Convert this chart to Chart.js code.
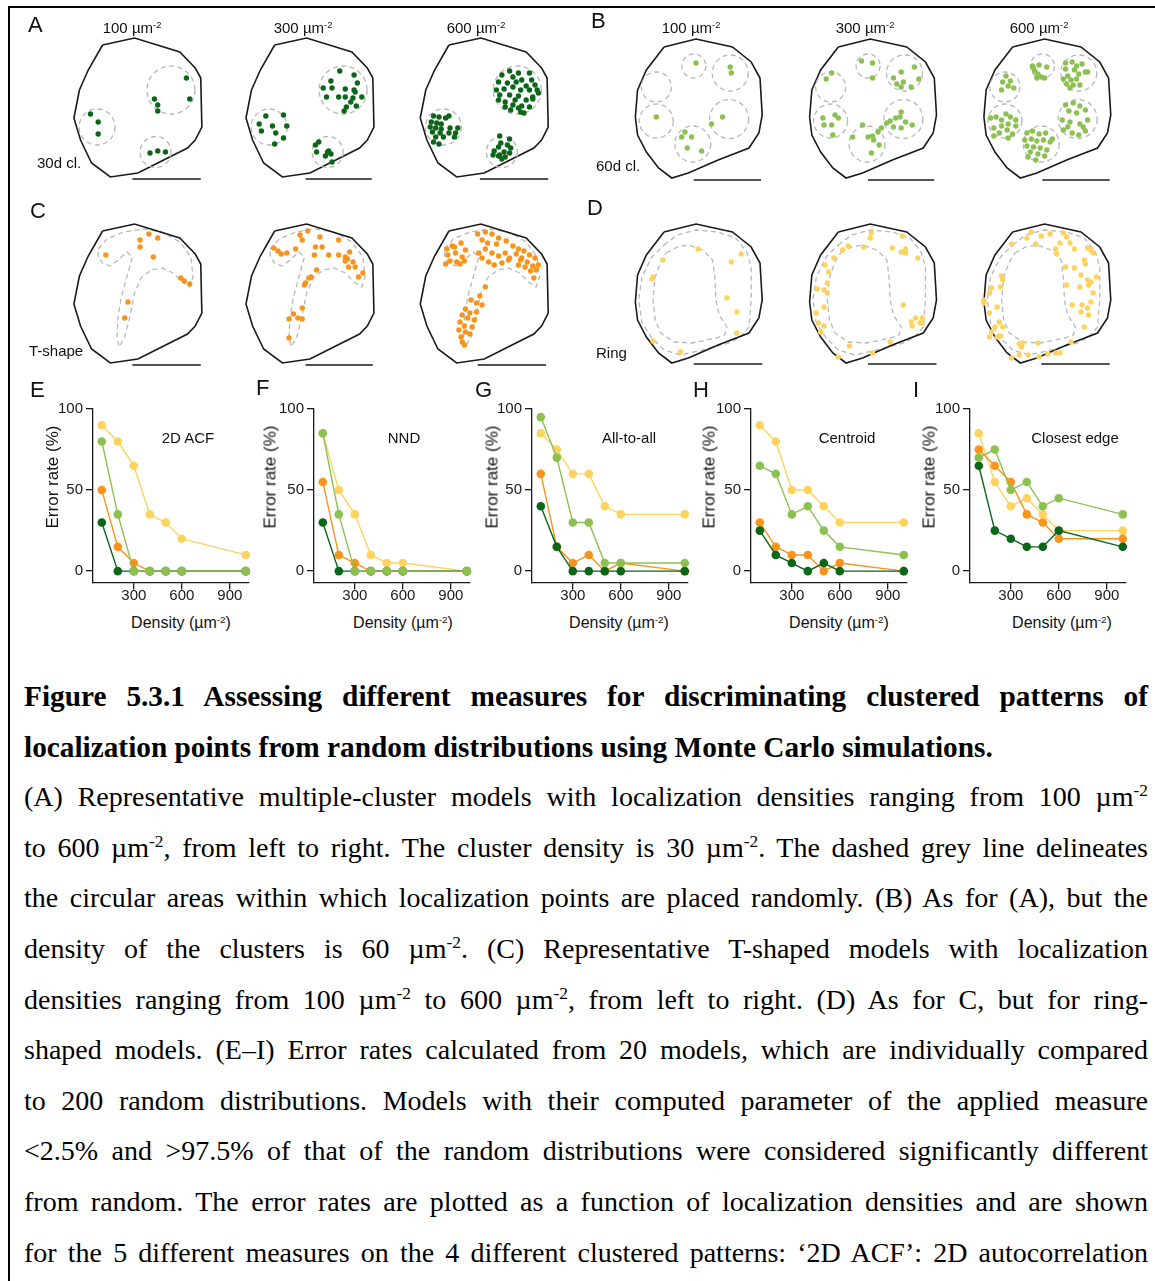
<!DOCTYPE html>
<html>
<head>
<meta charset="utf-8">
<title>Figure 5.3.1</title>
<script src="https://cdn.jsdelivr.net/npm/chart.js@4.4.1/dist/chart.umd.min.js"></script>
<style>
  html, body { margin: 0; padding: 0; background: #fff; }
  #page { position: relative; width: 1155px; height: 1281px; overflow: hidden; background: #fff;
          font-family: 'Liberation Sans', Arial, Helvetica, sans-serif; color: #111; }
  #frame { position: absolute; left: 8px; top: 6px; width: 1200px; height: 1400px;
           border-top: 2px solid #000; border-left: 2px solid #000; }
  canvas { position: absolute; }
  .lbl { position: absolute; line-height: 1; white-space: nowrap; }
  .letter { font-size: 22px; }
  .dens { font-size: 15px; transform: translateX(-50%); }
  .pat { font-size: 15px; }
  .ptitle { font-size: 15px; transform: translateX(-50%); }
  .xt { font-size: 16px; transform: translateX(-50%); }
  .yt { font-size: 17px; transform: translate(-50%, -50%) rotate(-90deg); }
  sup { font-size: 62%; line-height: 0; vertical-align: 0.55em; }
  #caption { position: absolute; left: 24px; top: 671px; width: 1124px;
             font-family: 'Liberation Serif', 'Times New Roman', serif; font-size: 28px;
             line-height: 50.6px; color: #000; }
  #caption .j { text-align: justify; text-align-last: justify; }
  #caption .b { font-weight: bold; font-size: 29.3px; }
</style>
</head>
<body>
<div id="page">
  <div id="frame"></div>

  <canvas id="modelsLeft" width="578" height="375" style="left:0;top:0"></canvas>
  <canvas id="modelsRight" width="577" height="375" style="left:578px;top:0"></canvas>

  <canvas id="chartE" width="217" height="216" style="left:40px;top:397px"></canvas>
  <canvas id="chartF" width="217" height="216" style="left:261px;top:397px"></canvas>
  <canvas id="chartG" width="217" height="216" style="left:479px;top:397px"></canvas>
  <canvas id="chartH" width="217" height="216" style="left:698px;top:397px"></canvas>
  <canvas id="chartI" width="217" height="216" style="left:917px;top:397px"></canvas>

  <!-- panel letters -->
  <div class="lbl letter" style="left:28px;top:14px">A</div>
  <div class="lbl letter" style="left:591px;top:10px">B</div>
  <div class="lbl letter" style="left:30px;top:200px">C</div>
  <div class="lbl letter" style="left:587px;top:197px">D</div>
  <div class="lbl letter" style="left:30px;top:379px">E</div>
  <div class="lbl letter" style="left:256px;top:377px">F</div>
  <div class="lbl letter" style="left:475px;top:379px">G</div>
  <div class="lbl letter" style="left:693px;top:379px">H</div>
  <div class="lbl letter" style="left:913px;top:379px">I</div>

  <!-- density headers -->
  <div class="lbl dens" style="left:132px;top:20px">100 µm<sup>-2</sup></div>
  <div class="lbl dens" style="left:303px;top:20px">300 µm<sup>-2</sup></div>
  <div class="lbl dens" style="left:476px;top:20px">600 µm<sup>-2</sup></div>
  <div class="lbl dens" style="left:691px;top:20px">100 µm<sup>-2</sup></div>
  <div class="lbl dens" style="left:865px;top:20px">300 µm<sup>-2</sup></div>
  <div class="lbl dens" style="left:1039px;top:20px">600 µm<sup>-2</sup></div>

  <!-- pattern names -->
  <div class="lbl pat" style="left:37px;top:155px">30d cl.</div>
  <div class="lbl pat" style="left:596px;top:158px">60d cl.</div>
  <div class="lbl pat" style="left:29px;top:343px">T-shape</div>
  <div class="lbl pat" style="left:596px;top:345px">Ring</div>

  <!-- measure names -->
  <div class="lbl ptitle" style="left:188px;top:430px">2D ACF</div>
  <div class="lbl ptitle" style="left:404px;top:430px">NND</div>
  <div class="lbl ptitle" style="left:629px;top:430px">All-to-all</div>
  <div class="lbl ptitle" style="left:847px;top:430px">Centroid</div>
  <div class="lbl ptitle" style="left:1075px;top:430px">Closest edge</div>

  <!-- axis titles -->
  <div class="lbl yt" style="left:52px;top:477px">Error rate (%)</div>
  <div class="lbl yt" style="left:270px;top:477px">Error rate (%)</div>
  <div class="lbl yt" style="left:492px;top:477px">Error rate (%)</div>
  <div class="lbl yt" style="left:709px;top:477px">Error rate (%)</div>
  <div class="lbl yt" style="left:929px;top:477px">Error rate (%)</div>
  <div class="lbl xt" style="left:181px;top:615px">Density (µm<sup>-2</sup>)</div>
  <div class="lbl xt" style="left:403px;top:615px">Density (µm<sup>-2</sup>)</div>
  <div class="lbl xt" style="left:619px;top:615px">Density (µm<sup>-2</sup>)</div>
  <div class="lbl xt" style="left:839px;top:615px">Density (µm<sup>-2</sup>)</div>
  <div class="lbl xt" style="left:1062px;top:615px">Density (µm<sup>-2</sup>)</div>

  <div id="caption">
    <div class="j b">Figure 5.3.1 Assessing different measures for discriminating clustered patterns of</div>
    <div class="b">localization points from random distributions using Monte Carlo simulations.</div>
    <div class="j">(A) Representative multiple-cluster models with localization densities ranging from 100 µm<sup>-2</sup></div>
    <div class="j">to 600 µm<sup>-2</sup>, from left to right. The cluster density is 30 µm<sup>-2</sup>. The dashed grey line delineates</div>
    <div class="j">the circular areas within which localization points are placed randomly. (B) As for (A), but the</div>
    <div class="j">density of the clusters is 60 µm<sup>-2</sup>. (C) Representative T-shaped models with localization</div>
    <div class="j">densities ranging from 100 µm<sup>-2</sup> to 600 µm<sup>-2</sup>, from left to right. (D) As for C, but for ring-</div>
    <div class="j">shaped models. (E–I) Error rates calculated from 20 models, which are individually compared</div>
    <div class="j">to 200 random distributions. Models with their computed parameter of the applied measure</div>
    <div class="j">&lt;2.5% and &gt;97.5% of that of the random distributions were considered significantly different</div>
    <div class="j">from random. The error rates are plotted as a function of localization densities and are shown</div>
    <div class="j">for the 5 different measures on the 4 different clustered patterns: ‘2D ACF’: 2D autocorrelation</div>
  </div>
</div>

<script>
// ---- E–I: error rate (%) vs localization density ----
const densities = [100, 200, 300, 400, 500, 600, 1000];
const densityTicks = [300, 600, 900];
const errorTicks = [0, 50, 100];

const acfCl30 = [30, 0, 0, 0, 0, 0, 0];
const acfCl60 = [80, 35, 0, 0, 0, 0, 0];
const acfTshape = [50, 15, 5, 0, 0, 0, 0];
const acfRing = [90, 80, 65, 35, 30, 20, 10];

const nndCl30 = [30, 0, 0, 0, 0, 0, 0];
const nndCl60 = [85, 35, 0, 0, 0, 0, 0];
const nndTshape = [55, 10, 5, 0, 0, 0, 0];
const nndRing = [85, 50, 35, 10, 5, 5, 0];

const allCl30 = [40, 15, 0, 0, 0, 0, 0];
const allCl60 = [95, 70, 30, 30, 5, 5, 5];
const allTshape = [60, 15, 5, 10, 0, 5, 0];
const allRing = [85, 75, 60, 60, 40, 35, 35];

const cenCl30 = [25, 10, 5, 0, 5, 0, 0];
const cenCl60 = [65, 60, 35, 40, 25, 15, 10];
const cenTshape = [30, 15, 10, 10, 0, 5, 0];
const cenRing = [90, 80, 50, 50, 40, 30, 30];

const edgeCl30 = [65, 25, 20, 15, 15, 25, 15];
const edgeCl60 = [70, 75, 50, 55, 40, 45, 35];
const edgeTshape = [75, 65, 55, 35, 30, 20, 20];
const edgeRing = [85, 55, 40, 45, 35, 25, 25];

// ---- A–D: model sketches (sketch units, first cell of each row) ----
const outlineRound = [[93,45],[122,38],[163,52],[177,68],[182,78],[183,127],[177,140],[170,148],[125,173],[100,177],[83,163],[73,140],[67,118],[72,90],[80,70]];
const outlineOval = [[656,47],[685,39],[718,47],[735,62],[743,78],[745,115],[742,133],[733,148],[705,160],[678,173],[663,178],[651,168],[640,152],[632,135],[630,117],[632,90],[640,70]];
const cellShiftLeft = [0, 156, 314];
const cellShiftRight = [0, 158, 316];
const dropC = 186;
const dropD = 185;

// dashed cluster circles: x, y, radius
const circlesA = [[155,90,24],[88,127,18],[141,152,15.5]];
const circlesB = [[683,66,12],[716,73,18],[649,87,15],[649,121,17],[682,144,18],[715,119,19.5]];
const tShape = [[89,249],[97,239],[112,232],[130,229],[147,232],[163,242],[173,257],[175,277],[172,287],[165,282],[157,273],[147,268],[137,270],[128,278],[122,293],[117,320],[113,337],[108,347],[106,337],[107,317],[110,297],[115,277],[120,257],[115,252],[107,260],[100,266],[93,263],[89,257]];
const ringOuter = [[656,245],[668,235],[685,230],[705,232],[721,238],[731,252],[735,267],[735,300],[733,327],[725,337],[715,343],[691,350],[671,355],[656,350],[645,338],[636,323],[633,300],[636,277],[645,257]];
const ringInner = [[658,253],[668,247],[678,245],[691,250],[700,260],[702,277],[703,300],[706,315],[713,327],[711,335],[703,338],[681,343],[665,342],[653,333],[648,320],[646,300],[648,277],[653,262]];
// scale bars: x0, x1, y
const scaleBars = [[120,182,179],[277,337,179],[435,497,179],[683,744,180],[841,901,180],[999,1060,180],
                   [120,182,365],[277,338,365],[433,495,365],[683,745,364],[841,903,364],[998,1060,364]];

const dotsA100 = [[169,78],[172,99],[140,99],[143,105],[143,111],[82,114],[89,122],[89,134],[136,153],[143,151],[150,152]];
const dotsA300 = [[308,71],[321,75],[300,81],[324,83],[293,88],[301,88],[313,89],[321,90],[296,97],[307,97],[313,97],[320,98],[328,97],[322,92],[318,102],[323,106],[314,107],[312,111],[241,116],[257,115],[235,124],[247,126],[260,126],[237,131],[250,133],[257,138],[249,144],[289,142],[286,145],[287,152],[297,152],[300,154],[295,156],[301,162],[298,151]];
const dotsA600 = [[462,71],[470,73],[480,73],[455,75],[465,77],[473,80],[482,80],[452,82],[460,83],[468,82],[477,86],[485,85],[487,90],[450,90],[457,89],[465,87],[472,90],[480,90],[453,95],[462,95],[470,96],[483,97],[488,93],[452,100],[458,102],[467,100],[477,100],[483,99],[458,107],[465,105],[473,106],[480,107],[463,110],[472,112],[475,113],[470,108],
  [393,116],[398,117],[404,118],[391,122],[396,123],[400,124],[390,127],[395,128],[400,129],[408,128],[415,128],[392,132],[399,133],[407,133],[413,133],[395,137],[402,137],[412,137],[393,142],[398,144],[407,116],
  [453,136],[454,143],[462,139],[460,145],[452,147],[463,148],[448,151],[457,152],[447,155],[452,156],[458,157],[462,153],[455,159],[453,155]];

const dotsB100 = [[685,63],[716,67],[717,73],[649,117],[709,117],[699,124],[675,132],[672,137],[681,137],[677,148],[690,151]];
const dotsB300 = [[835,61],[845,63],[845,78],[808,73],[803,79],[883,67],[871,72],[864,78],[873,82],[887,79],[867,84],[880,87],[871,87],[800,118],[811,115],[814,118],[808,125],[801,125],[809,135],[827,137],[836,125],[841,137],[846,140],[845,136],[850,132],[853,128],[851,145],[844,153],[858,123],[861,121],[866,118],[871,112],[870,117],[875,122],[864,127],[871,128],[881,125]];
const dotsB600 = [[990,66],[996,65],[1003,67],[992,71],[995,74],[998,77],[1001,78],[994,78],[991,68],
  [1020,63],[1026,62],[1030,66],[1035,64],[1038,72],[1020,69],[1028,70],[1032,74],[1022,76],[1025,80],[1030,79],[1021,84],[1027,85],[1033,85],[1024,88],[1040,72],[1018,79],
  [966,76],[963,82],[968,86],[973,88],[962,90],[970,81],
  [952,118],[957,117],[966,114],[970,117],[962,120],[975,120],[955,128],[962,126],[968,124],[975,126],[960,133],[967,130],[972,134],[955,136],[968,138],
  [985,133],[990,131],[996,134],[1002,133],[983,140],[989,139],[994,141],[1000,140],[1006,142],[985,146],[991,147],[997,148],[1003,150],[988,152],[995,154],[1001,156],[993,160],[986,157],[1008,139],
  [1020,105],[1027,103],[1033,106],[1038,110],[1023,111],[1030,113],[1017,120],[1024,122],[1033,124],[1040,120],[1018,130],[1026,133],[1032,135],[1038,131],[1022,127],[1036,127]];

const dotsC100 = [[135,234],[127,240],[143,238],[127,247],[96,255],[139,257],[164,278],[167,281],[172,284],[116,302],[113,318]];
const dotsC300 = [[279,231],[272,235],[274,240],[290,237],[307,240],[248,248],[252,251],[260,253],[255,254],[268,249],[286,247],[292,247],[285,255],[298,255],[307,255],[317,252],[313,257],[313,261],[315,259],[320,262],[316,267],[322,267],[329,273],[325,277],[287,270],[280,278],[277,283],[282,277],[276,285],[274,308],[266,314],[262,319],[270,318],[274,319],[262,338]];
const dotsC600 = [[405,249],[410,246],[418,243],[422,250],[406,255],[413,253],[419,257],[408,261],[414,262],[421,261],[404,264],[412,247],[417,264],
  [433,234],[440,232],[446,234],[452,238],[459,241],[437,240],[442,243],[450,244],[434,253],[440,249],[446,253],[452,256],[458,253],[437,258],[443,262],[448,265],[455,263],[461,260],
  [465,246],[470,249],[475,251],[480,255],[485,258],[468,254],[473,258],[478,262],[483,266],[488,265],[470,265],[476,267],[481,271],[486,270],[484,278],[472,260],[462,258],
  [440,287],[435,296],[432,303],[427,300],[422,309],[426,313],[419,315],[424,318],[430,320],[417,322],[421,326],[428,327],[416,330],[422,332],[418,337],[426,334],[419,342],[421,345],[432,312],[437,305]];

const dotsD100 = [[687,249],[726,254],[655,260],[717,262],[646,277],[645,279],[713,298],[722,312],[722,333],[646,341],[671,352]];
const dotsD300 = [[844,233],[843,238],[872,236],[818,250],[823,246],[837,247],[863,248],[871,252],[875,249],[875,253],[886,258],[810,258],[802,265],[805,272],[804,283],[795,289],[801,290],[804,293],[801,307],[794,313],[796,323],[801,326],[798,332],[873,305],[880,322],[884,318],[890,318],[888,323],[881,326],[890,323],[861,342],[824,346],[845,353],[814,357]];
const dotsD600 = [[989,232],[985,238],[998,236],[1006,234],[993,244],[971,244],[1018,233],[1021,237],[1024,243],[1015,243],[1028,249],[1011,249],[1012,254],[1043,250],[1045,253],[1040,248],
  [1037,260],[1038,264],[1020,267],[1028,268],[1034,275],[1040,280],[1043,282],[1048,277],[1041,285],[1033,287],[1021,285],[1045,293],[1026,305],[1035,305],[1040,308],[1043,302],[1034,312],[1041,315],[1037,327],
  [962,276],[963,280],[961,287],[953,288],[951,293],[946,300],[946,303],[958,307],[951,313],[960,322],[956,327],[963,327],[953,332],[958,337],[961,336],[951,337],
  [981,343],[978,344],[980,347],[995,343],[1025,342],[978,355],[986,355],[996,357],[1004,354],[1011,353],[1015,353],[971,358]];

const colCl30 = '#0b6619';
const colCl60 = '#8cc152';
const colTshape = '#f7941d';
const colRing = '#fdd35f';
const ink = '#1a1a1a';
const dashGrey = '#b8b8b8';
const fontSans = "'Liberation Sans', Arial, Helvetica, sans-serif";

// ---------- error-rate charts ----------
const fixTicks = values => scale => { scale.ticks = values.map(v => ({ value: v })); };

function errorChart(canvasId, cl30, cl60, tshape, ring) {
  // first dataset is drawn on top
  const series = [[cl60, colCl60], [cl30, colCl30], [tshape, colTshape], [ring, colRing]];
  const axisStyle = {
    border: { color: ink, width: 1.3 },
    grid: { drawOnChartArea: false, drawTicks: true, tickLength: 7, color: ink, lineWidth: 1.3 }
  };
  return new Chart(document.getElementById(canvasId), {
    type: 'line',
    data: {
      datasets: series.map(([vals, col]) => ({
        data: densities.map((d, i) => ({ x: d, y: vals[i] })),
        borderColor: col,
        backgroundColor: col,
        borderWidth: 1.4,
        pointRadius: 4.3,
        pointBorderWidth: 0,
        tension: 0,
        clip: false
      }))
    },
    options: {
      responsive: false,
      animation: false,
      events: [],
      layout: { padding: { top: 10, right: 8, bottom: 0, left: 0 } },
      plugins: { legend: { display: false }, tooltip: { enabled: false } },
      scales: {
        x: {
          type: 'linear', min: 45, max: 1020,
          afterBuildTicks: fixTicks(densityTicks),
          afterFit: s => { s.height = 30.5; },
          ...axisStyle,
          ticks: { font: { family: fontSans, size: 15 }, color: ink, padding: -3, maxRotation: 0, autoSkip: false }
        },
        y: {
          type: 'linear', min: -7, max: 100,
          afterBuildTicks: fixTicks(errorTicks),
          afterFit: s => { s.width = 53; },
          ...axisStyle,
          ticks: { font: { family: fontSans, size: 15 }, color: ink, padding: 3, autoSkip: false }
        }
      }
    }
  });
}

errorChart('chartE', acfCl30, acfCl60, acfTshape, acfRing);
errorChart('chartF', nndCl30, nndCl60, nndTshape, nndRing);
errorChart('chartG', allCl30, allCl60, allTshape, allRing);
errorChart('chartH', cenCl30, cenCl60, cenTshape, cenRing);
errorChart('chartI', edgeCl30, edgeCl60, edgeTshape, edgeRing);

// ---------- model sketches ----------
const toXY = pts => pts.map(([x, y]) => ({ x, y }));
const moved = (pts, dx, dy) => pts.map(([x, y]) => [x + dx, y + dy]);

// dashed outlines for the circle markers (points have no borderDash of their own)
const dashedRings = {
  id: 'dashedRings',
  beforeDatasetDraw(chart, args) {
    if (chart.data.datasets[args.index].dashed) chart.ctx.setLineDash([5, 3.5]);
  },
  afterDatasetDraw(chart) { chart.ctx.setLineDash([]); }
};

function pathSet(pts, color, width, dash, closed) {
  const p = closed ? pts.concat([pts[0]]) : pts;
  return { data: toXY(p), showLine: true, borderColor: color, borderWidth: width,
           borderDash: dash || [], pointRadius: 0, fill: false, tension: 0, order: 2 };
}
function circleSet(circles) {
  return { data: toXY(circles), pointRadius: circles.map(c => c[2]),
           pointBackgroundColor: 'rgba(0,0,0,0)', pointBorderColor: dashGrey,
           pointBorderWidth: 1.3, dashed: true, order: 1 };
}
function dotSet(pts, color) {
  return { data: toXY(pts), pointRadius: 2.7, pointBackgroundColor: color,
           pointBorderWidth: 0, order: 0 };
}
function barSets(bars) {
  return bars.map(([x0, x1, y]) => pathSet([[x0, y], [x1, y]], ink, 1.3));
}

function modelChart(canvasId, xMin, xMax, datasets) {
  return new Chart(document.getElementById(canvasId), {
    type: 'scatter',
    data: { datasets },
    options: {
      responsive: false,
      animation: false,
      events: [],
      // big circle markers would otherwise pad the chart area inwards
      layout: { autoPadding: false, padding: 0 },
      plugins: { legend: { display: false }, tooltip: { enabled: false } },
      scales: {
        x: { type: 'linear', display: false, min: xMin, max: xMax },
        y: { type: 'linear', display: false, min: 0, max: 375, reverse: true }
      }
    },
    plugins: [dashedRings]
  });
}

const leftSets = [
  ...cellShiftLeft.map(dx => pathSet(moved(outlineRound, dx, 0), ink, 1.6, null, true)),
  ...cellShiftLeft.map(dx => pathSet(moved(outlineRound, dx, dropC), ink, 1.6, null, true)),
  ...cellShiftLeft.map(dx => pathSet(moved(tShape, dx, 0), dashGrey, 1.3, [5, 3.5], true)),
  circleSet(cellShiftLeft.flatMap(dx => circlesA.map(([x, y, r]) => [x + dx, y, r]))),
  ...barSets(scaleBars.filter(b => b[0] < 578)),
  dotSet(dotsA100, colCl30), dotSet(dotsA300, colCl30), dotSet(dotsA600, colCl30),
  dotSet(dotsC100, colTshape), dotSet(dotsC300, colTshape), dotSet(dotsC600, colTshape)
];

const rightSets = [
  ...cellShiftRight.map(dx => pathSet(moved(outlineOval, dx, 0), ink, 1.6, null, true)),
  ...cellShiftRight.map(dx => pathSet(moved(outlineOval, dx, dropD), ink, 1.6, null, true)),
  ...cellShiftRight.map(dx => pathSet(moved(ringOuter, dx, 0), dashGrey, 1.3, [5, 3.5], true)),
  ...cellShiftRight.map(dx => pathSet(moved(ringInner, dx, 0), dashGrey, 1.3, [5, 3.5], true)),
  circleSet(cellShiftRight.flatMap(dx => circlesB.map(([x, y, r]) => [x + dx, y, r]))),
  ...barSets(scaleBars.filter(b => b[0] >= 578)),
  dotSet(dotsB100, colCl60), dotSet(dotsB300, colCl60), dotSet(dotsB600, colCl60),
  dotSet(dotsD100, colRing), dotSet(dotsD300, colRing), dotSet(dotsD600, colRing)
];

// the sketch grid is a little narrower than the page: 1 unit = 1.103 px across
modelChart('modelsLeft', 0, 524, leftSets);
modelChart('modelsRight', 578, 1101.1, rightSets);
</script>
</body>
</html>
